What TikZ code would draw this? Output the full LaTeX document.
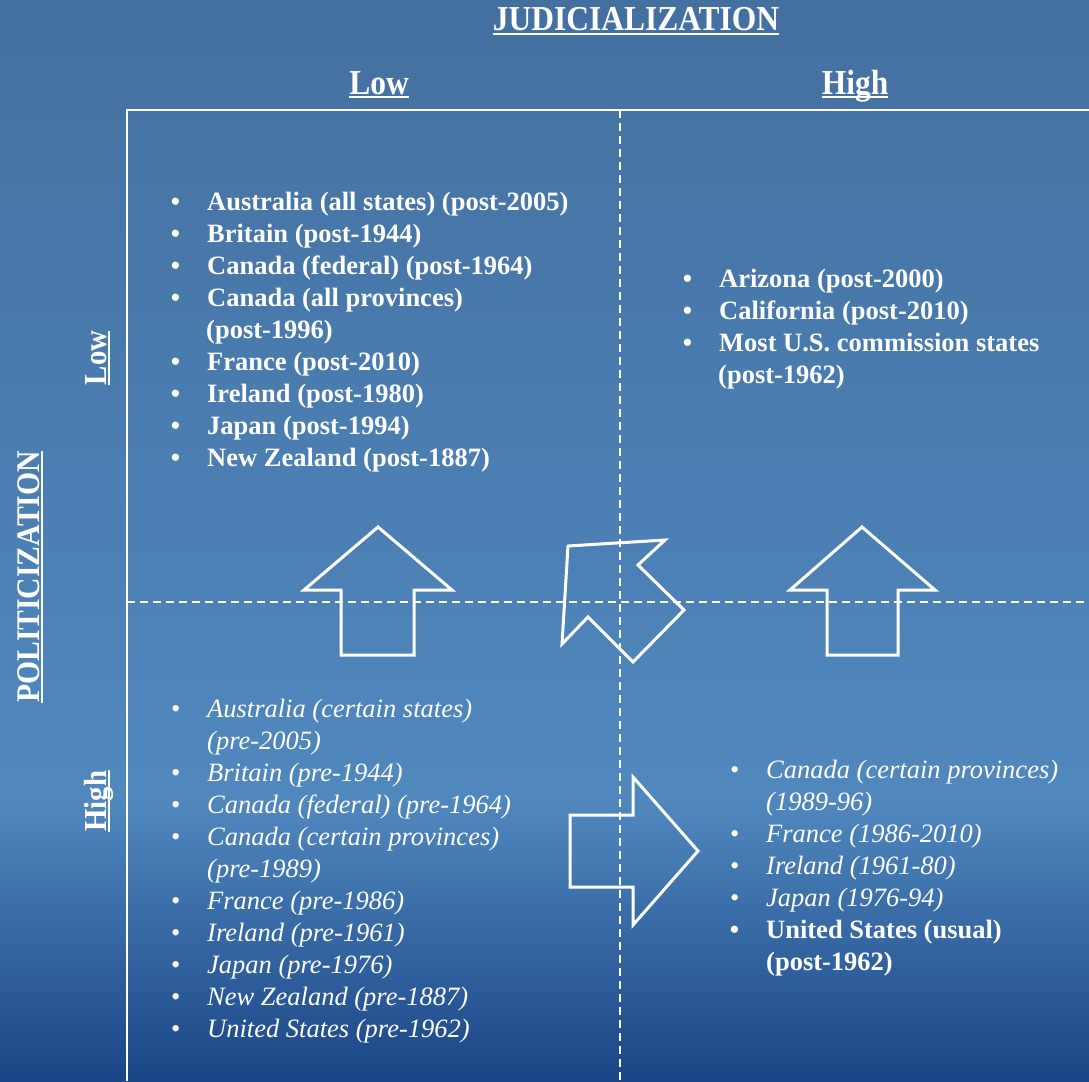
\documentclass[tikz,border=0pt]{standalone}
\usepackage{fontspec}
\setmainfont{Liberation Serif}
\newfontfamily\headfont[FakeStretch=0.9]{Liberation Serif}
\definecolor{bgtop}{HTML}{4470A0}
\definecolor{bgmid}{HTML}{5088BE}
\definecolor{bgbot}{HTML}{1A4586}
\pgfdeclareverticalshading{bgshade}{100bp}{color(0bp)=(bgbot); color(25bp)=(bgbot); color(38bp)=(bgmid); color(75bp)=(bgtop); color(100bp)=(bgtop)}
\newcommand\bul{\llap{\textbullet\hspace{27pt}}}
\tikzset{
  headlbl/.style={font=\headfont\fontsize{35}{40}\selectfont\bfseries, text=white, inner sep=0pt, anchor=base},
  sidehead/.style={headlbl, font=\headfont\fontsize{32}{36}\selectfont\bfseries, rotate=90},
  underl/.style={white, line width=2.5pt},
  bitem/.style={font=\fontsize{26.5}{32}\selectfont\bfseries, text=white, inner sep=0pt, anchor=base west},
  iitem/.style={bitem, font=\fontsize{26.5}{32}\selectfont\itshape},
  axisline/.style={white, line width=1.5pt},
  quadline/.style={white, line width=1.5pt, dash pattern=on 8pt off 5pt},
  bigarrow/.style={white, line width=3pt, line join=miter}
}
\begin{document}
\begin{tikzpicture}[x=1pt,y=-1pt]
\fill[shading=bgshade] (0,0) rectangle (1089,1081);
\useasboundingbox (0,0) rectangle (1089,1081);
\draw[axisline] (1089,110) -- (127,110) -- (127,1081);
\draw[quadline] (620,110) -- (620,1081);
\draw[quadline] (127,602) -- (1089,602);

\node[headlbl] (jud) at (636,31) {JUDICIALIZATION};
\node[headlbl] (jlow) at (379,94) {Low};
\node[headlbl] (jhigh) at (855,94) {High};
\node[sidehead, font=\headfont\fontsize{33}{36}\selectfont\bfseries] (pol) at (39,577) {POLITICIZATION};
\node[sidehead] (plow) at (106,358) {Low};
\node[sidehead] (phigh) at (106,801) {High};
\foreach \n in {jud,jlow,jhigh}
  \draw[underl] ([yshift=-3pt]\n.base west) -- ([yshift=-3pt]\n.base east);
\foreach \n in {pol,plow,phigh}
  \draw[underl] ([xshift=3pt]\n.base west) -- ([xshift=3pt]\n.base east);

\node[bitem] (tl1) at (207,210) {\bul Australia (all states) (post-2005)};
\node[bitem] (tl2) at (207,242) {\bul Britain (post-1944)};
\node[bitem] (tl3) at (207,274) {\bul Canada (federal) (post-1964)};
\node[bitem] (tl4) at (207,306) {\bul Canada (all provinces)};
\node[bitem] (tl5) at (206,338) {(post-1996)};
\node[bitem] (tl6) at (207,370) {\bul France (post-2010)};
\node[bitem] (tl7) at (207,402) {\bul Ireland (post-1980)};
\node[bitem] (tl8) at (207,434) {\bul Japan (post-1994)};
\node[bitem] (tl9) at (207,466) {\bul New Zealand (post-1887)};

\node[bitem] (tr1) at (719,287) {\bul Arizona (post-2000)};
\node[bitem] (tr2) at (719,319) {\bul California (post-2010)};
\node[bitem] (tr3) at (719,351) {\bul Most U.S. commission states};
\node[bitem] (tr4) at (718,383) {(post-1962)};

\node[iitem] (bl1) at (207,717) {\bul Australia (certain states)};
\node[iitem] (bl2) at (207,749) {(pre-2005)};
\node[iitem] (bl3) at (207,781) {\bul Britain (pre-1944)};
\node[iitem] (bl4) at (207,813) {\bul Canada (federal) (pre-1964)};
\node[iitem] (bl5) at (207,845) {\bul Canada (certain provinces)};
\node[iitem] (bl6) at (207,877) {(pre-1989)};
\node[iitem] (bl7) at (207,909) {\bul France (pre-1986)};
\node[iitem] (bl8) at (207,941) {\bul Ireland (pre-1961)};
\node[iitem] (bl9) at (207,973) {\bul Japan (pre-1976)};
\node[iitem] (bl10) at (207,1005) {\bul New Zealand (pre-1887)};
\node[iitem] (bl11) at (207,1037) {\bul United States (pre-1962)};

\node[iitem] (br1) at (766,778) {\bul Canada (certain provinces)};
\node[iitem] (br2) at (766,810) {(1989-96)};
\node[iitem] (br3) at (766,842) {\bul France (1986-2010)};
\node[iitem] (br4) at (766,874) {\bul Ireland (1961-80)};
\node[iitem] (br5) at (766,906) {\bul Japan (1976-94)};
\node[bitem] (br6) at (766,938) {\bul United States (usual)};
\node[bitem] (br7) at (766,970) {(post-1962)};

\draw[bigarrow] (378,527) -- (452,590) -- (414,590) -- (414,655) -- (341,655) -- (341,590) -- (304,590) -- cycle;
\draw[bigarrow] (862,527) -- (935,590) -- (898,590) -- (898,655) -- (827,655) -- (827,590) -- (790,590) -- cycle;
\draw[bigarrow] (698,851) -- (633,925) -- (633,887) -- (570,887) -- (570,815) -- (633,815) -- (633,777) -- cycle;
\draw[bigarrow] (568,546) -- (665,540) -- (638,565) -- (684,610) -- (633,662) -- (588,617) -- (562,644) -- cycle;
\end{tikzpicture}
\end{document}
